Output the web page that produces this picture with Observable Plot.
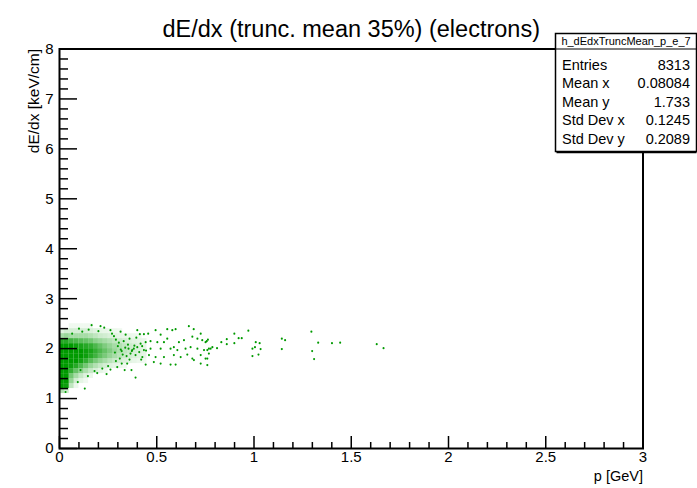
<!DOCTYPE html>
<html><head><meta charset="utf-8">
<script src="https://cdn.jsdelivr.net/npm/d3@7"></script>
<script src="https://cdn.jsdelivr.net/npm/@observablehq/plot@0.6"></script>
<style>html,body{margin:0;padding:0;background:#fff}svg{display:block}</style>
</head><body><div id="chart"></div>
<script>
// ---------- data ----------
const title = "dE/dx (trunc. mean 35%) (electrons)";
const xLabel = "p [GeV]";
const yLabel = "dE/dx [keV/cm]";
const xTicks = [0, 0.5, 1, 1.5, 2, 2.5, 3];
const yTicks = [0, 1, 2, 3, 4, 5, 6, 7, 8];
const statsName = "h_dEdxTruncMean_p_e_7";
const statsLabels = ["Entries", "Mean x", "Mean y", "Std Dev x", "Std Dev y"];
const statsValues = ["8313", "0.08084", "1.733", "0.1245", "0.2089"];

// dense core: occupancy of cells (p step 0.025 GeV, dE/dx step 0.1)
const cellP = [0,0.025,0.05,0.075,0.1,0.125,0.15,0.175,0.2,0.225,0.25,0.275,0.3,0.325,0.35,0.375,0.4,0.425];
const cellY = [2.4,2.3,2.2,2.1,2.0,1.9,1.8,1.7,1.6,1.5,1.4,1.3,1.2,1.1];
const cellDensity = [
  [0,0.03,0.06,0.06,0.06,0.06,0.06,0.05,0.04,0.03,0.02,0.02,0.01,0.01,0,0,0,0],
  [0.12,0.17,0.17,0.17,0.17,0.17,0.15,0.12,0.1,0.09,0.08,0.07,0.06,0.05,0.04,0.03,0.03,0.02],
  [0.35,0.4,0.35,0.35,0.35,0.35,0.3,0.25,0.2,0.18,0.15,0.12,0.1,0.09,0.08,0.07,0.06,0.05],
  [0.85,0.85,0.75,0.7,0.65,0.6,0.55,0.45,0.4,0.35,0.3,0.25,0.2,0.17,0.14,0.12,0.1,0.08],
  [1,1,1,0.95,0.9,0.85,0.8,0.7,0.6,0.5,0.42,0.35,0.3,0.24,0.2,0.16,0.13,0.1],
  [1,1,1,1,1,0.95,0.9,0.8,0.7,0.6,0.5,0.4,0.32,0.26,0.21,0.17,0.14,0.11],
  [1,1,1,1,1,0.95,0.85,0.75,0.62,0.52,0.42,0.34,0.27,0.22,0.18,0.15,0.12,0.1],
  [1,1,1,1,0.92,0.8,0.65,0.52,0.42,0.34,0.27,0.21,0.17,0.14,0.11,0.09,0.07,0.06],
  [1,1,0.95,0.85,0.7,0.55,0.4,0.3,0.22,0.17,0.13,0.1,0.08,0.06,0.05,0.04,0.03,0.03],
  [1,1,0.8,0.6,0.45,0.32,0.22,0.15,0.1,0.07,0.05,0.04,0.03,0.02,0.02,0.02,0.01,0.01],
  [1,1,0.55,0.35,0.22,0.13,0.08,0.05,0.03,0.02,0.02,0.01,0.01,0,0,0,0,0],
  [1,1,0.42,0.18,0.1,0.06,0.03,0.02,0.01,0,0,0,0,0,0,0,0,0],
  [1,0.95,0.25,0.08,0.04,0.02,0,0,0,0,0,0,0,0,0,0,0,0],
  [0.3,0.2,0.05,0.02,0,0,0,0,0,0,0,0,0,0,0,0,0,0]
];
const cellWidthP = 0.025, cellHeightY = 0.1;

const pointP = [
  0.065,0.117,0.165,0.211,0.262,0.314,0.10,0.15,0.20,0.23,
  0.094,0.13,0.031,0.242,0.146,0.194,0.262,0.297,0.335,0.348,0.108,0.391,
  0.28,0.30,0.32,0.33,0.345,0.355,0.36,0.29,0.31,0.27,0.34,0.365,0.25,0.22,0.18,0.32,
  0.40,0.413,0.434,0.456,0.494,0.52,0.554,0.58,0.597,0.665,0.69,0.726,0.683,0.709,0.734,0.751,0.763,
  0.64,0.614,0.588,0.554,0.537,0.503,0.468,0.443,0.417,0.40,0.382,0.374,0.434,0.468,0.52,0.571,
  0.606,0.648,0.674,0.709,0.743,0.768,0.391,0.426,0.46,0.494,0.537,0.588,0.623,0.657,0.691,0.726,
  0.76,0.485,0.52,0.571,0.597,0.726,0.76,0.443,0.37,0.683,
  0.757,0.76,0.777,0.786,0.768,0.751,0.81,0.832,0.86,0.86,0.899,0.899,0.921,0.937,0.971,
  1.009,1.029,0.992,1.005,1.034,0.992,1.023,1.143,1.143,1.16,
  1.295,1.33,1.299,1.309,1.401,1.443,1.631,1.666,
  0.285,0.305,0.325,0.352,0.372,0.29,0.315,0.338,0.36,0.385,0.41,0.425,0.445,0.395,0.42
];
const pointY = [
  2.30,2.34,2.47,2.45,2.37,2.34,2.40,2.38,2.35,2.42,
  1.33,1.20,1.13,1.49,1.45,1.51,1.58,1.63,1.57,1.70,1.57,1.42,
  2.25,2.05,1.95,2.15,1.85,2.00,2.20,1.75,1.80,2.30,2.28,1.90,1.65,1.60,1.55,1.70,
  2.37,2.29,2.29,2.30,2.37,2.28,2.39,2.37,2.39,2.45,2.39,2.30,2.24,2.20,2.17,2.13,2.18,
  2.17,2.13,2.03,2.20,2.13,2.13,2.15,2.13,2.10,2.03,2.00,1.97,1.97,2.00,2.00,2.00,
  1.97,2.00,2.03,2.00,1.97,2.00,1.87,1.83,1.87,1.83,1.83,1.87,1.83,1.88,1.77,1.87,
  1.80,1.73,1.70,1.68,1.68,1.70,1.67,1.68,1.57,1.80,
  2.15,1.97,2.00,2.03,1.90,1.80,2.01,2.13,2.19,2.09,2.30,2.11,2.21,2.21,2.36,
  2.13,2.11,2.00,2.03,1.99,1.85,1.88,2.20,1.99,2.17,
  2.34,2.12,1.95,1.79,2.11,2.12,2.09,2.01,
  1.92,2.12,1.88,2.08,1.95,2.18,1.98,2.02,1.78,2.06,1.93,2.05,1.96,2.22,1.78
];

// ---------- build ----------
const cells = [];
cellY.forEach((y, i) => cellP.forEach((p, j) => {
  const d = cellDensity[i][j];
  if (d > 0.05) cells.push({x1: p, x2: p + cellWidthP, y1: y, y2: y + cellHeightY, d});
}));
const points = pointP.map((p, i) => ({p, y: pointY[i]}));
const xMinor = d3.range(0, 31).map(i => i / 10).filter(v => Math.abs(v * 2 - Math.round(v * 2)) > 1e-6);
const yMinor = d3.range(0, 41).map(i => i / 5).filter(v => Math.abs(v - Math.round(v)) > 1e-6);

const W = 697, H = 488, ML = 59, MR = 54.5, MT = 48.5, MB = 40;
const FW = W - ML - MR, FH = H - MT - MB;
const green = "#009a00";
const font = "'Liberation Sans', Arial, Helvetica, sans-serif";

const chart = Plot.plot({
  width: W, height: H,
  marginLeft: ML, marginRight: MR, marginTop: MT, marginBottom: MB,
  style: {fontFamily: font, background: "#fff", color: "#000", overflow: "visible"},
  x: {domain: [0, 3]},
  y: {domain: [0, 8]},
  opacity: {domain: [0, 1], range: [0, 1]},
  marks: [
    Plot.rect(cells, {x1: "x1", x2: "x2", y1: "y1", y2: "y2", fill: green, fillOpacity: "d", inset: 0}),
    Plot.dot(points, {x: "p", y: "y", r: 1.05, fill: green, stroke: null}),
    Plot.ruleX(xMinor, {x: d => d, insetTop: FH - 6, stroke: "#000", strokeWidth: 1.5}),
    Plot.ruleX(xTicks, {x: d => d, insetTop: FH - 12, stroke: "#000", strokeWidth: 1.5}),
    Plot.ruleY(yMinor, {y: d => d, insetRight: FW - 9, stroke: "#000", strokeWidth: 1.5}),
    Plot.ruleY(yTicks, {y: d => d, insetRight: FW - 18, stroke: "#000", strokeWidth: 1.5}),
    Plot.frame({stroke: "#000", strokeWidth: 2}),
    Plot.axisX(xTicks, {tickSize: 0, tickPadding: 3, fontSize: 15, tickFormat: d => String(d), label: null}),
    Plot.axisY(yTicks, {tickSize: 0, tickPadding: 6, fontSize: 15, tickFormat: d => String(d), label: null}),
    Plot.text([xLabel], {frameAnchor: "bottom-right", textAnchor: "end", lineAnchor: "bottom", dy: 32, fontSize: 14.5}),
    Plot.text([yLabel], {frameAnchor: "top-left", textAnchor: "end", rotate: -90, dx: -32, dy: 0, fontSize: 15.5}),
    Plot.text([title], {frameAnchor: "top", dy: -28.5, fontSize: 23.5})
  ]
});
document.getElementById("chart").appendChild(chart);

// ---------- statistics box ----------
const svg = d3.select(chart);
const bx = 555.5, by = 33.5, bw = 141, bh = 118, headH = 15.5;
const box = svg.append("g").attr("font-family", font).attr("fill", "#000");
box.append("rect").attr("x", bx).attr("y", by).attr("width", bw).attr("height", bh)
  .attr("fill", "#fff").attr("stroke", "#000").attr("stroke-width", 1.5);
box.append("line").attr("x1", bx).attr("x2", bx + bw).attr("y1", by + headH).attr("y2", by + headH)
  .attr("stroke", "#000").attr("stroke-width", 1.2);
box.append("line").attr("x1", bx + 1).attr("x2", bx + bw).attr("y1", by + bh + 1).attr("y2", by + bh + 1)
  .attr("stroke", "#000").attr("stroke-width", 1.5);
box.append("text").attr("x", bx + bw / 2).attr("y", by + 11.5).attr("text-anchor", "middle")
  .attr("font-size", 11).text(statsName);
statsLabels.forEach((lab, i) => {
  const yb = 70 + i * 18.4;
  box.append("text").attr("x", 562).attr("y", yb).attr("text-anchor", "start").attr("font-size", 14.5).text(lab);
  box.append("text").attr("x", 690).attr("y", yb).attr("text-anchor", "end").attr("font-size", 14.5).text(statsValues[i]);
});
</script>
</body></html>
